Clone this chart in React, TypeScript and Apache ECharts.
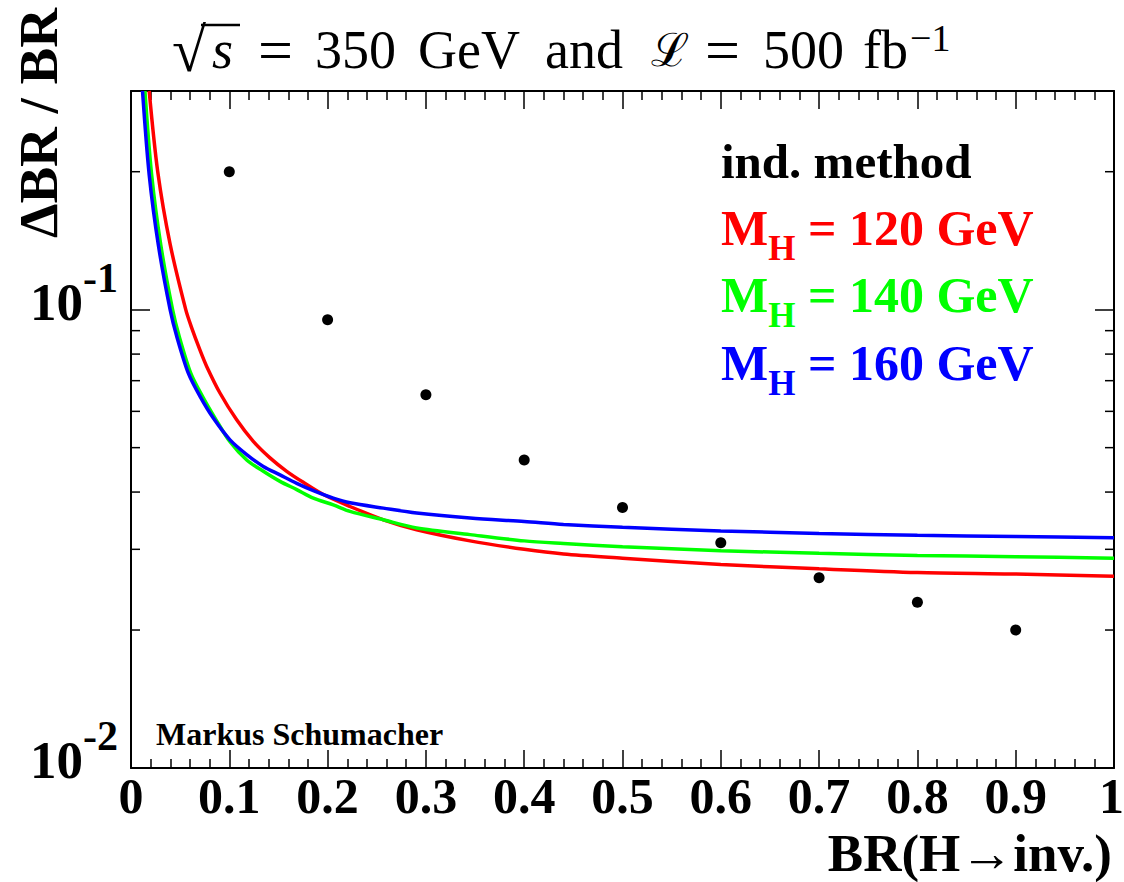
import React, { useEffect, useRef } from 'react';
import * as echarts from 'echarts';

const FONT = '"Liberation Serif", "Times New Roman", serif';

// Black points (indirect method estimate)
const pointX = [0.1, 0.2, 0.3, 0.4, 0.5, 0.6, 0.7, 0.8, 0.9];
const pointY = [0.2, 0.0951, 0.0652, 0.047, 0.037, 0.031, 0.026, 0.023, 0.02];

// M_H = 120 GeV (red)
const red120X = [0.0185, 0.0272, 0.0398, 0.0557, 0.0611, 0.0702, 0.077, 0.0905, 0.1075, 0.1244, 0.1414, 0.1584, 0.1753, 0.1957, 0.2228, 0.2567, 0.2906, 0.3449, 0.4, 0.44, 0.5, 0.6, 0.7, 0.8, 0.9, 1.0];
const red120Y = [0.3, 0.2, 0.139, 0.1, 0.0921, 0.0816, 0.0752, 0.0658, 0.0575, 0.0516, 0.0475, 0.0444, 0.042, 0.0395, 0.0372, 0.0348, 0.0331, 0.0313, 0.03, 0.0293, 0.0287, 0.0278, 0.0272, 0.0267, 0.0265, 0.0262];

// M_H = 140 GeV (green)
const green140X = [0.0142, 0.021, 0.0304, 0.0423, 0.049, 0.0608, 0.0727, 0.0855, 0.1007, 0.1177, 0.1346, 0.1516, 0.1686, 0.1855, 0.2058, 0.2228, 0.2567, 0.2906, 0.3449, 0.4, 0.44, 0.5, 0.6, 0.7, 0.8, 0.9, 1.0];
const green140Y = [0.3, 0.197, 0.138, 0.1, 0.0875, 0.0727, 0.0647, 0.058, 0.0515, 0.047, 0.0444, 0.0422, 0.0405, 0.0388, 0.0375, 0.0363, 0.0348, 0.0334, 0.0323, 0.0313, 0.0309, 0.0304, 0.0298, 0.0294, 0.0291, 0.0289, 0.0287];

// M_H = 160 GeV (blue)
const blue160X = [0.0117, 0.0185, 0.0279, 0.0398, 0.0465, 0.0583, 0.0702, 0.0837, 0.1007, 0.1177, 0.1346, 0.1516, 0.1686, 0.1855, 0.2058, 0.2228, 0.2567, 0.2906, 0.3449, 0.4, 0.44, 0.5, 0.6, 0.7, 0.8, 0.9, 1.0];
const blue160Y = [0.3, 0.197, 0.138, 0.1, 0.0875, 0.0727, 0.0647, 0.058, 0.052, 0.0483, 0.0455, 0.0436, 0.0418, 0.0403, 0.0388, 0.0379, 0.0369, 0.036, 0.0351, 0.0345, 0.034, 0.0335, 0.0329, 0.0325, 0.0322, 0.032, 0.0318];

const massLabels = ['120', '140', '160'];
const massColors = ['#ff0000', '#00ff00', '#0000ff'];

const yMinorTicks = [0.02, 0.03, 0.04, 0.05, 0.06, 0.07, 0.08, 0.09, 0.2];

const zip = (xs: number[], ys: number[]) => xs.map((x, i) => [x, ys[i]]);

const seriesName = (m: string) => `M_H = ${m} GeV`;

export default function App() {
  const ref = useRef<HTMLDivElement>(null);

  useEffect(() => {
    document.body.style.margin = '0';
    if (!ref.current) return;
    const chart = echarts.init(ref.current, undefined, { renderer: 'svg' });

    const axisLine = { show: true, onZero: false, lineStyle: { color: '#000', width: 2 } };
    const xTick = { show: true, inside: true, length: 18, lineStyle: { color: '#000', width: 1.5 } };
    const xMinor = { show: true, splitNumber: 5, length: 9, lineStyle: { color: '#000', width: 1.5 } };
    const yTick = { show: true, inside: true, length: 19, lineStyle: { color: '#000', width: 1.5 } };

    const curves = [
      zip(red120X, red120Y),
      zip(green140X, green140Y),
      zip(blue160X, blue160Y),
    ];

    const lineSeries = massLabels.map((m, i) => ({
      name: seriesName(m),
      type: 'line',
      data: curves[i],
      showSymbol: false,
      smooth: 0.3,
      clip: true,
      lineStyle: { color: massColors[i], width: 3.5 },
      itemStyle: { color: massColors[i] },
      z: 3,
    }));

    const legendRows = massLabels.map((m, i) => ({
      type: 'text', x: 721, y: 234 + i * 67.5, z: 10,
      style: {
        text: `{m|M}{h|H}{r| = ${m} GeV}`,
        align: 'left', verticalAlign: 'middle', fill: massColors[i],
        rich: {
          m: { fontFamily: FONT, fontWeight: 'bold', fontSize: 50, lineHeight: 40, verticalAlign: 'top', fill: massColors[i] },
          h: { fontFamily: FONT, fontWeight: 'bold', fontSize: 35, lineHeight: 63, verticalAlign: 'bottom', fill: massColors[i] },
          r: { fontFamily: FONT, fontWeight: 'bold', fontSize: 50, lineHeight: 40, verticalAlign: 'top', fill: massColors[i] },
        },
      },
    }));

    const tt = (w: number, extra: any = {}) => ({
      fontFamily: FONT, fontSize: 54, lineHeight: 63, verticalAlign: 'middle', fill: '#000', width: w, align: 'left', ...extra,
    });

    const labelFont = { fontFamily: FONT, fontWeight: 'bold', fontSize: 50, color: '#000', lineHeight: 50 };

    const option: any = {
      animation: false,
      backgroundColor: '#ffffff',
      grid: { left: 131, top: 91, width: 983, height: 677, containLabel: false, outerBoundsMode: 'none' },
      xAxis: [
        {
          type: 'value', min: 0, max: 1, interval: 0.1, position: 'bottom',
          axisLine, axisTick: xTick, minorTick: xMinor,
          splitLine: { show: false }, minorSplitLine: { show: false },
          axisLabel: {
            show: true, margin: 3, ...labelFont,
            formatter: (v: number) => (v === 0 ? '0' : Math.abs(v - 1) < 1e-9 ? '{one|1}' : v.toFixed(1)),
            rich: { one: { ...labelFont, width: 20, align: 'right' } },
          },
        },
        {
          type: 'value', min: 0, max: 1, interval: 0.1, position: 'top',
          axisLine, axisTick: xTick, minorTick: xMinor,
          splitLine: { show: false }, minorSplitLine: { show: false },
          axisLabel: { show: false },
        },
      ],
      yAxis: [
        {
          type: 'log', logBase: 10, min: 0.01, max: 0.3, position: 'left',
          axisLine, axisTick: yTick, splitLine: { show: false },
          axisLabel: {
            show: true, margin: 13, color: '#000', padding: [0, 0, 16, 0],
            formatter: (v: number) => {
              const l = Math.log10(v);
              const e = Math.round(l);
              if (Math.abs(l - e) > 1e-6) return '';
              return `{b|10}{s|${e}}`;
            },
            rich: {
              b: { fontFamily: FONT, fontWeight: 'bold', fontSize: 53, lineHeight: 90, verticalAlign: 'middle', color: '#000' },
              s: { fontFamily: FONT, fontWeight: 'bold', fontSize: 42, lineHeight: 20, verticalAlign: 'top', color: '#000' },
            },
          },
        },
        {
          type: 'log', logBase: 10, min: 0.01, max: 0.3, position: 'right',
          axisLine, axisTick: yTick, splitLine: { show: false },
          axisLabel: { show: false },
        },
      ],
      graphic: [
        {
          type: 'text', x: 172, y: 50, z: 10,
          style: {
            text: '{q|√}{s|s }{e1|= }{a|350 }{b|GeV }{c|and }{l|ℒ }{e2|= }{d|500 }{f|fb}{p|−1}',
            align: 'left', verticalAlign: 'middle', fill: '#000',
            rich: {
              q: tt(40, { fontSize: 62 }),
              s: tt(46, { fontStyle: 'italic' }),
              e1: tt(57, { fontSize: 62 }),
              a: tt(103),
              b: tt(127),
              c: tt(106),
              l: tt(54, { fontFamily: '"DejaVu Serif", serif', fontSize: 46 }),
              e2: tt(58, { fontSize: 62 }),
              d: tt(100),
              f: tt(47),
              p: { fontFamily: FONT, fontSize: 38, lineHeight: 20, verticalAlign: 'top', fill: '#000' },
            },
          },
        },
        {
          type: 'line', z: 10,
          shape: { x1: 201, y1: 25, x2: 240, y2: 25 },
          style: { stroke: '#000', lineWidth: 2.5 },
        },
        {
          type: 'text', x: 38, y: 8, rotation: Math.PI / 2, z: 10,
          style: { text: 'ΔBR / BR', font: `bold 55px ${FONT}`, align: 'right', verticalAlign: 'middle', fill: '#000', lineHeight: 50 },
        },
        {
          type: 'text', x: 1112, y: 852.5, z: 10,
          style: { text: 'BR(H→inv.)', font: `bold 53px ${FONT}`, align: 'right', verticalAlign: 'middle', fill: '#000', lineHeight: 46 },
        },
        {
          type: 'text', x: 721, y: 161, z: 10,
          style: { text: 'ind. method', font: `bold 49px ${FONT}`, align: 'left', verticalAlign: 'middle', fill: '#000' },
        },
        ...legendRows,
        {
          type: 'text', x: 156, y: 734, z: 10,
          style: { text: 'Markus Schumacher', font: `bold 32px ${FONT}`, align: 'left', verticalAlign: 'middle', fill: '#000' },
        },
      ],
      series: [
        ...lineSeries,
        {
          name: 'points',
          type: 'scatter',
          data: zip(pointX, pointY),
          symbol: 'circle',
          symbolSize: 11,
          itemStyle: { color: '#000', opacity: 1 },
          z: 4,
        },
        {
          name: 'yMinorTicks',
          type: 'custom',
          data: yMinorTicks.map((v) => [0, v]),
          encode: { x: 0, y: 1 },
          clip: false,
          silent: true,
          renderItem: (_params: any, api: any) => {
            const v = api.value(1);
            const pL = api.coord([0, v]);
            const pR = api.coord([1, v]);
            return {
              type: 'group',
              children: [
                { type: 'line', shape: { x1: pL[0], y1: pL[1], x2: pL[0] + 9, y2: pL[1] }, style: { stroke: '#000', lineWidth: 1.5 } },
                { type: 'line', shape: { x1: pR[0] - 9, y1: pR[1], x2: pR[0], y2: pR[1] }, style: { stroke: '#000', lineWidth: 1.5 } },
              ],
            };
          },
          z: 5,
        },
      ],
    };

    chart.setOption(option);
    return () => chart.dispose();
  }, []);

  return (
    <div
      ref={ref}
      style={{ position: 'fixed', left: 0, top: 0, width: 1124, height: 882, background: '#fff' }}
    />
  );
}
